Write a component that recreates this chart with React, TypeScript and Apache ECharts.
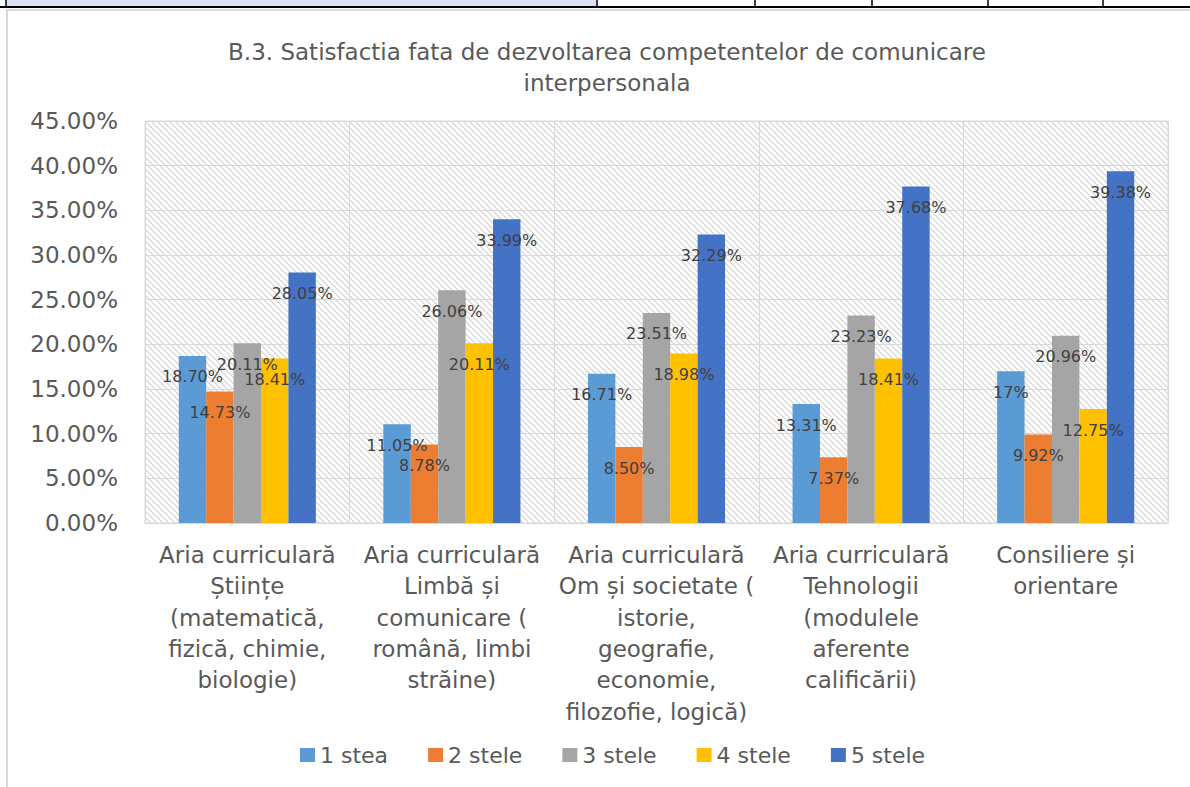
import React, { useEffect, useRef } from "react";
import * as echarts from "echarts";

const categories = [
  "Aria curriculară\nȘtiințe\n(matematică,\nfizică, chimie,\nbiologie)",
  "Aria curriculară\nLimbă și\ncomunicare (\nromână, limbi\nstrăine)",
  "Aria curriculară\nOm și societate (\nistorie,\ngeografie,\neconomie,\nfilozofie, logică)",
  "Aria curriculară\nTehnologii\n(modulele\naferente\ncalificării)",
  "Consiliere și\norientare",
];

const seriesNames = ["1 stea", "2 stele", "3 stele", "4 stele", "5 stele"];
const star1 = [18.7, 11.05, 16.71, 13.31, 17];
const star2 = [14.73, 8.78, 8.5, 7.37, 9.92];
const star3 = [20.11, 26.06, 23.51, 23.23, 20.96];
const star4 = [18.41, 20.11, 18.98, 18.41, 12.75];
const star5 = [28.05, 33.99, 32.29, 37.68, 39.38];
const seriesValues = [star1, star2, star3, star4, star5];
const colors = ["#5b9bd5", "#ed7d31", "#a5a5a5", "#ffc000", "#4472c4"];

const titleText =
  "B.3. Satisfactia fata de dezvoltarea competentelor de comunicare\ninterpersonala";

const yMin = 0;
const yMax = 45;
const yInterval = 5;

const fmtPct = (v: number) =>
  Number.isInteger(v) ? `${v}%` : `${v.toFixed(2)}%`;

const hatchSvg =
  "<svg xmlns='http://www.w3.org/2000/svg' width='6' height='6'>" +
  "<path d='M0 0L6 6M-1 5L1 7M5 -1L7 1' stroke='#d2d2d2' stroke-width='1.2'/></svg>";
const hatchUrl =
  "data:image/svg+xml;charset=utf-8," + encodeURIComponent(hatchSvg);

const FONT = "'DejaVu Sans', Verdana, sans-serif";
const TEXT_GRAY = "#595959";

export default function App() {
  const ref = useRef<HTMLDivElement>(null);

  useEffect(() => {
    if (!ref.current) return;
    const chart = echarts.init(ref.current, undefined, { renderer: "svg" });

    const option: any = {
      animation: false,
      backgroundColor: "#ffffff",
      textStyle: { fontFamily: FONT },
      title: {
        text: titleText,
        left: 602,
        top: 31,
        textAlign: "center",
        textStyle: {
          fontFamily: FONT,
          fontSize: 23,
          fontWeight: "normal",
          color: TEXT_GRAY,
          lineHeight: 31,
        },
      },
      graphic: [
        {
          type: "rect",
          silent: true,
          z: -10,
          shape: { x: 6, y: 0, width: 591, height: 6 },
          style: { fill: "#dae3f3" },
        },
        {
          type: "line",
          silent: true,
          shape: { x1: 0, y1: 7, x2: 1190, y2: 7 },
          style: { stroke: "#000000", lineWidth: 2 },
        },
        ...[6, 597, 755, 872, 988, 1103].map((x) => ({
          type: "line",
          silent: true,
          shape: { x1: x, y1: 0, x2: x, y2: 7 },
          style: { stroke: "#000000", lineWidth: 1.5 },
        })),
        {
          type: "rect",
          silent: true,
          shape: { x: 7, y: 10, width: 1200, height: 800 },
          style: { fill: "none", stroke: "#d9d9d9", lineWidth: 2 },
        },
      ],
      legend: {
        data: seriesNames,
        left: 300,
        top: 744,
        padding: 0,
        itemWidth: 15,
        itemHeight: 14,
        itemGap: 40,
        icon: "rect",
        textStyle: { fontFamily: FONT, fontSize: 22, color: TEXT_GRAY },
      },
      grid: {
        left: 145,
        top: 121,
        width: 1023,
        height: 402,
        containLabel: false,
        outerBoundsMode: "none",
        show: true,
        borderColor: "#d9d9d9",
        borderWidth: 1,
        backgroundColor: {
          image: hatchUrl,
          repeat: "repeat",
          imageWidth: 6,
          imageHeight: 6,
        },
      },
      xAxis: {
        type: "category",
        data: categories,
        axisTick: { show: false },
        axisLine: { show: true, lineStyle: { color: "#d9d9d9", width: 1 } },
        splitLine: {
          show: true,
          interval: 0,
          lineStyle: { color: "#d9d9d9", width: 1 },
        },
        axisLabel: {
          interval: 0,
          margin: 16,
          fontFamily: FONT,
          fontSize: 23,
          lineHeight: 31.4,
          color: TEXT_GRAY,
          align: "center",
        },
      },
      yAxis: {
        type: "value",
        min: yMin,
        max: yMax,
        interval: yInterval,
        axisLine: { show: false },
        axisTick: { show: false },
        splitLine: { show: true, lineStyle: { color: "#d9d9d9", width: 1 } },
        axisLabel: {
          margin: 27,
          fontFamily: FONT,
          fontSize: 23,
          color: TEXT_GRAY,
          formatter: (v: number) => `${v.toFixed(2)}%`,
        },
      },
      series: seriesNames.map((name, i) => ({
        name,
        type: "bar",
        data: seriesValues[i],
        barGap: "0%",
        barCategoryGap: "33%",
        itemStyle: { color: colors[i] },
        label: {
          show: true,
          position: "insideTop",
          distance: 13,
          fontFamily: FONT,
          fontSize: 16,
          color: "#404040",
          formatter: (p: any) => fmtPct(p.value),
        },
      })),
    };

    chart.setOption(option);
    return () => chart.dispose();
  }, []);

  return (
    <div
      ref={ref}
      style={{ position: "absolute", left: 0, top: 0, width: 1190, height: 787 }}
    />
  );
}
